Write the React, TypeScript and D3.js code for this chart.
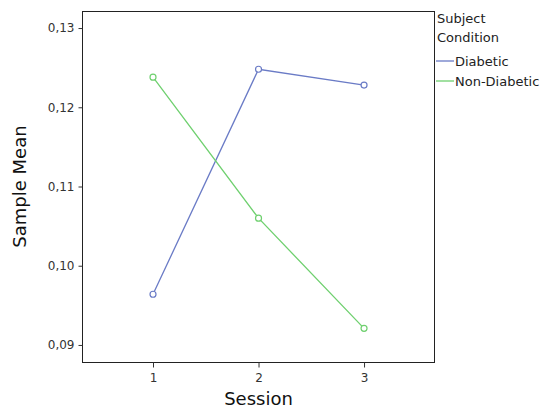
import React, { useRef, useEffect } from 'react';
import * as d3 from 'd3';

const sessions = [1, 2, 3];
const diabetic = [0.0964, 0.1248, 0.1228];
const nonDiabetic = [0.1238, 0.1060, 0.0921];
const yTicks = [0.09, 0.10, 0.11, 0.12, 0.13];
const seriesNames = ['Diabetic', 'Non-Diabetic'];
const seriesColors = ['#6a7bc6', '#6fd06f'];

const W = 541;
const H = 408;
const font = '"DejaVu Sans", Verdana, sans-serif';

const App = () => {
  const svgRef = useRef<SVGSVGElement>(null);

  useEffect(() => {
    const svg = d3.select(svgRef.current);
    svg.selectAll('*').remove();

    const left = 82, right = 434, top = 11, bottom = 362;
    const x = d3.scaleLinear().domain([0.327, 3.663]).range([left, right]);
    const y = d3.scaleLinear().domain([0.08785, 0.13215]).range([bottom, top]);

    // frame
    svg.append('rect')
      .attr('x', left + 0.5).attr('y', top + 0.5)
      .attr('width', right - left).attr('height', bottom - top)
      .attr('fill', 'none').attr('stroke', '#222').attr('stroke-width', 1);

    const yAxis = d3.axisLeft(y).tickValues(yTicks).tickSize(4)
      .tickFormat(d => d3.format('.2f')(d as number).replace('.', ','));
    const gy = svg.append('g').attr('transform', `translate(${left + 0.5},0)`).call(yAxis);
    gy.select('.domain').remove();
    gy.selectAll('text').attr('font-family', font).attr('font-size', 12).attr('fill', '#333').attr('dx', '-1');
    gy.selectAll('line').attr('stroke', '#333');

    const xAxis = d3.axisBottom(x).tickValues(sessions).tickSize(5).tickFormat(d3.format('d'));
    const gx = svg.append('g').attr('transform', `translate(0,${bottom + 0.5})`).call(xAxis);
    gx.select('.domain').remove();
    gx.selectAll('text').attr('font-family', font).attr('font-size', 12).attr('fill', '#333').attr('dy', '0.95em');
    gx.selectAll('line').attr('stroke', '#333');

    svg.append('text')
      .attr('x', (left + right) / 2 + 0.5).attr('y', 405)
      .attr('text-anchor', 'middle').attr('font-family', font).attr('font-size', 18).attr('fill', '#111')
      .text('Session');
    svg.append('text')
      .attr('transform', `translate(26,${(top + bottom) / 2}) rotate(-90)`)
      .attr('text-anchor', 'middle').attr('font-family', font).attr('font-size', 18).attr('fill', '#111')
      .text('Sample Mean');

    const line = d3.line<number>().x((_, i) => x(sessions[i])).y(d => y(d));
    [diabetic, nonDiabetic].forEach((vals, k) => {
      svg.append('path').datum(vals)
        .attr('d', line).attr('fill', 'none')
        .attr('stroke', seriesColors[k]).attr('stroke-width', 1.3);
      svg.selectAll(null).data(vals).join('circle')
        .attr('cx', (_, i) => x(sessions[i])).attr('cy', d => y(d)).attr('r', 3)
        .attr('fill', 'white').attr('stroke', seriesColors[k]).attr('stroke-width', 1.2);
    });

    // legend
    const lg = svg.append('g').attr('font-family', font).attr('font-size', 13).attr('fill', '#222');
    lg.append('text').attr('x', 437).attr('y', 23).text('Subject');
    lg.append('text').attr('x', 437).attr('y', 42).text('Condition');
    seriesNames.forEach((name, k) => {
      const yy = 61 + k * 20;
      lg.append('line').attr('x1', 436).attr('x2', 454).attr('y1', yy).attr('y2', yy)
        .attr('stroke', seriesColors[k]).attr('stroke-width', 1.3);
      lg.append('text').attr('x', 455).attr('y', yy + 5).text(name);
    });
  }, []);

  return (
    <svg ref={svgRef} width={W} height={H}
      style={{ position: 'absolute', left: 0, top: 0, background: 'white' }} />
  );
};

export default App;
